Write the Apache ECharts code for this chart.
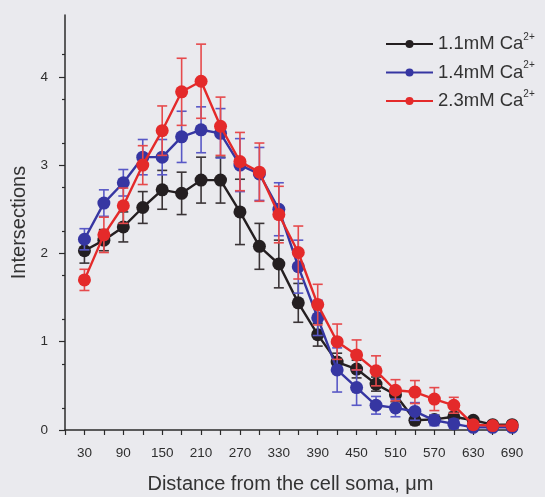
<!DOCTYPE html>
<html>
<head>
<meta charset="utf-8">
<script src="https://cdn.jsdelivr.net/npm/echarts@6/dist/echarts.min.js"></script>
<style>
  html, body { margin: 0; padding: 0; background: #eaeaee; }
  #chart { width: 545px; height: 497px; }
</style>
</head>
<body>
<div id="chart"></div>
<script>
// Sholl analysis: mean intersections (± SEM) vs distance from the soma
const distances = [30, 60, 90, 120, 150, 180, 210, 240, 270, 300, 330, 360, 390, 420, 450, 480, 510, 540, 570, 600, 630, 660, 690];

const ca11 = [2.03, 2.15, 2.30, 2.52, 2.72, 2.68, 2.83, 2.83, 2.47, 2.08, 1.88, 1.44, 1.08, 0.77, 0.69, 0.52, 0.40, 0.11, 0.12, 0.15, 0.11, 0.06, 0.06];
const ca11Err = [0.14, 0.12, 0.17, 0.18, 0.22, 0.24, 0.26, 0.26, 0.37, 0.26, 0.27, 0.22, 0.13, 0.10, 0.10, 0.08, 0.08, 0.05, 0.05, 0.05, 0.03, 0.02, 0.02];

const ca14 = [2.16, 2.57, 2.80, 3.09, 3.09, 3.32, 3.40, 3.36, 3.00, 2.90, 2.50, 1.85, 1.27, 0.68, 0.48, 0.28, 0.25, 0.21, 0.11, 0.07, 0.03, 0.03, 0.03];
const ca14Err = [0.12, 0.15, 0.15, 0.20, 0.20, 0.29, 0.26, 0.28, 0.30, 0.30, 0.30, 0.30, 0.20, 0.25, 0.20, 0.10, 0.10, 0.10, 0.06, 0.05, 0.02, 0.02, 0.02];

const ca23 = [1.70, 2.21, 2.54, 3.00, 3.39, 3.83, 3.95, 3.44, 3.04, 2.92, 2.44, 2.01, 1.42, 1.00, 0.85, 0.67, 0.45, 0.43, 0.35, 0.28, 0.06, 0.05, 0.05];
const ca23Err = [0.12, 0.20, 0.20, 0.22, 0.28, 0.38, 0.42, 0.33, 0.33, 0.33, 0.32, 0.30, 0.23, 0.20, 0.17, 0.17, 0.12, 0.13, 0.13, 0.09, 0.03, 0.02, 0.02];

const seriesNames = ['1.1mM Ca', '1.4mM Ca', '2.3mM Ca'];
const seriesColors = ['#241f21', '#3636a2', '#e42a2a'];
const errColors = ['#3a3436', '#5858c6', '#e64a4c'];

const xTicks = [];
for (let v = 0; v <= 690; v += 30) xTicks.push(v);
const xLabels = distances.filter((d, i) => i % 2 === 0);
const yLabels = [0, 1, 2, 3, 4];

const chart = echarts.init(document.getElementById('chart'), null, { renderer: 'canvas' });

function errorSeries(values, errs, idx) {
  return {
    type: 'custom',
    name: seriesNames[idx] + ' SEM',
    z: 2 + idx * 2,
    silent: true,
    clip: false,
    data: distances.map((d, i) => [d, values[i] - errs[i], values[i] + errs[i]]),
    encode: { x: 0, y: [1, 2] },
    renderItem: function (params, api) {
      const x = api.value(0);
      const lo = api.coord([x, api.value(1)]);
      const hi = api.coord([x, api.value(2)]);
      const cap = 5;
      const style = { stroke: errColors[idx], lineWidth: 1.6 };
      return {
        type: 'group',
        children: [
          { type: 'line', shape: { x1: hi[0], y1: hi[1], x2: lo[0], y2: lo[1] }, style: style },
          { type: 'line', shape: { x1: hi[0] - cap, y1: hi[1], x2: hi[0] + cap, y2: hi[1] }, style: style },
          { type: 'line', shape: { x1: lo[0] - cap, y1: lo[1], x2: lo[0] + cap, y2: lo[1] }, style: style }
        ]
      };
    }
  };
}

function lineSeries(values, idx) {
  return {
    type: 'line',
    name: seriesNames[idx],
    z: 3 + idx * 2,
    clip: false,
    data: distances.map((d, i) => [d, values[i]]),
    symbol: 'circle',
    symbolSize: 13,
    lineStyle: { color: seriesColors[idx], width: 2.4 },
    itemStyle: { color: seriesColors[idx] },
    emphasis: { disabled: true }
  };
}

const axisColor = '#2b2b2b';
const font = 'Liberation Sans, Arial, sans-serif';

chart.setOption({
  animation: false,
  backgroundColor: '#eaeaee',
  textStyle: { fontFamily: font },
  grid: { left: 65, right: 29, top: 15, bottom: 67, outerBoundsMode: 'none', containLabel: false },
  legend: {
    orient: 'vertical',
    left: 385,
    top: 32,
    padding: 0,
    itemWidth: 47,
    itemHeight: 10,
    itemGap: 7,
    data: seriesNames,
    formatter: function (name) { return '{n|' + name + '}{s|2+}'; },
    textStyle: {
      color: '#333',
      rich: {
        n: { fontSize: 18.5, fontFamily: font, color: '#333' },
        s: { fontSize: 10, fontFamily: font, color: '#333', padding: [0, 0, 14, 0] }
      }
    },
    selectedMode: false
  },
  xAxis: {
    type: 'value',
    min: 0,
    max: 696,
    interval: 30,
    name: 'Distance from the cell soma, \u03bcm',
    nameLocation: 'middle',
    nameGap: 44,
    nameTextStyle: { fontSize: 20, color: '#333', fontFamily: font },
    axisLine: { onZero: false, lineStyle: { color: axisColor, width: 1.5 } },
    axisTick: { show: true, length: 5, customValues: xTicks, lineStyle: { color: axisColor, width: 1.2 } },
    axisLabel: { customValues: xLabels, fontSize: 13.5, color: '#2e2e2e', margin: 16 },
    splitLine: { show: false }
  },
  yAxis: {
    type: 'value',
    min: 0,
    max: 4.7,
    interval: 0.5,
    name: 'Intersections',
    nameLocation: 'middle',
    nameGap: 32,
    nameTextStyle: { fontSize: 20, color: '#333', fontFamily: font },
    axisLine: { show: true, lineStyle: { color: axisColor, width: 1.5 } },
    axisTick: { show: true, length: 6, customValues: yLabels, lineStyle: { color: axisColor, width: 1.2 } },
    minorTick: { show: true, splitNumber: 2, length: 3, lineStyle: { color: axisColor, width: 1.2 } },
    axisLabel: { customValues: yLabels, fontSize: 13.5, color: '#2e2e2e', margin: 17 },
    splitLine: { show: false }
  },
  series: [
    errorSeries(ca11, ca11Err, 0),
    lineSeries(ca11, 0),
    errorSeries(ca14, ca14Err, 1),
    lineSeries(ca14, 1),
    errorSeries(ca23, ca23Err, 2),
    lineSeries(ca23, 2)
  ]
});
</script>
</body>
</html>
